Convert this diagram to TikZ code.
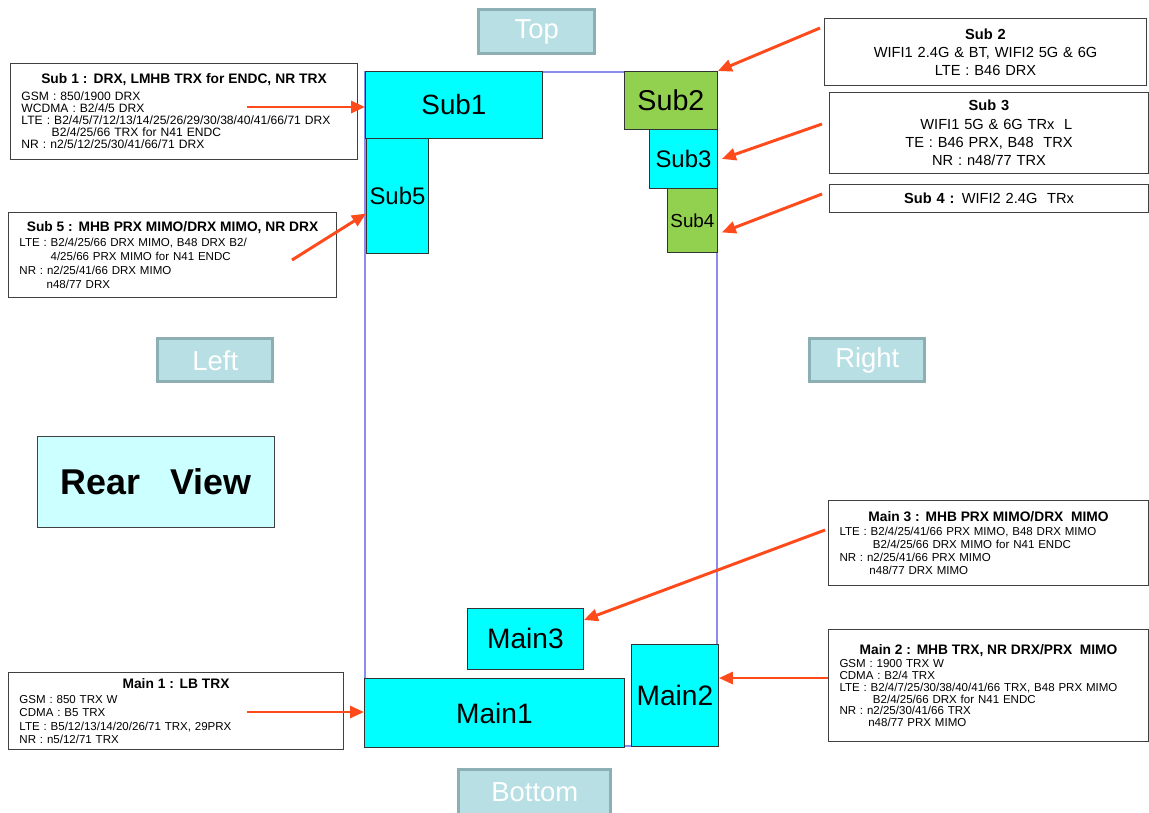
\documentclass[tikz,border=0pt]{standalone}
\usepackage{fontspec}
\setmainfont{Liberation Sans}
\usetikzlibrary{arrows.meta,positioning}
\definecolor{partcyan}{HTML}{00FFFF}
\definecolor{partgreen}{HTML}{92D050}
\definecolor{tagfill}{HTML}{B8DFE3}
\definecolor{tagedge}{HTML}{8CAFB3}
\definecolor{rearfill}{HTML}{CCFFFF}
\definecolor{arrowred}{HTML}{FF4A1C}
\definecolor{outlineblue}{HTML}{8C8CEB}
\definecolor{boxedge}{HTML}{404040}
\newcommand{\boxtitle}[1]{\makebox[\linewidth]{\fontsize{9.8}{12}\selectfont\bfseries #1}}

\begin{document}
\begin{tikzpicture}[x=0.025cm, y=-0.025cm,
    part/.style={draw=black!80, line width=0.6pt, anchor=north west, inner sep=1pt},
    infobox/.style={draw=boxedge, line width=0.7pt, fill=white, anchor=north west,
                    inner xsep=0.275cm, align=left, font=\fontsize{8.2}{8.4}\selectfont},
    tag/.style={draw=tagedge, line width=2pt, fill=tagfill, text=white, anchor=north west,
                inner sep=0pt, font=\fontsize{19.5}{22}\selectfont},
    arrow/.style={-{Triangle[length=0.35cm,width=0.3cm]}, line width=2.1pt, color=arrowred}
]
\useasboundingbox (0,0) rectangle (1149,812);

% --- phone outline ---
\draw[outlineblue, line width=0.8pt] (365,72) rectangle (717,746);

% --- antenna parts ---
\node[part, fill=partcyan, minimum width=4.425cm, minimum height=1.675cm,
      font=\fontsize{19.8}{22}\selectfont]                  (sub1) at (365,71) {Sub1};
\node[part, fill=partcyan, minimum width=1.55cm, minimum height=2.875cm,
      font=\fontsize{17}{20}\selectfont]                    (sub5) at (366,138) {Sub5};
\node[part, fill=partgreen, minimum width=2.325cm, minimum height=1.45cm,
      font=\fontsize{20.4}{23}\selectfont]                  (sub2) at (624,71) {Sub2};
\node[part, fill=partcyan, minimum width=1.7cm, minimum height=1.475cm,
      font=\fontsize{17}{20}\selectfont]                    (sub3) at (649,129) {Sub3};
\node[part, fill=partgreen, minimum width=1.25cm, minimum height=1.6cm,
      font=\fontsize{13.4}{16}\selectfont]                  (sub4) at (667,188) {Sub4};
\node[part, fill=partcyan, minimum width=2.9cm, minimum height=1.525cm,
      font=\fontsize{20}{23}\selectfont]                    (main3) at (467,608) {Main3};
\node[part, fill=partcyan, minimum width=6.5cm, minimum height=1.725cm,
      font=\fontsize{20}{23}\selectfont]                    (main1) at (364,678) {Main1};
\node[part, fill=partcyan, minimum width=2.175cm, minimum height=2.55cm,
      font=\fontsize{20}{23}\selectfont]                    (main2) at (631,644) {Main2};

% --- side tags ---
\node[tag, minimum width=2.9cm, minimum height=1.1cm]    (top)    at (477.4,8.4)   {Top};
\node[tag, minimum width=2.875cm, minimum height=1.075cm] (left)  at (156.4,337.4) {Left};
\node[tag, minimum width=2.875cm, minimum height=1.075cm] (right) at (808.4,337.4) {Right};
\node[tag, minimum width=3.8cm, minimum height=1.12cm]   (bottom) at (457.4,768.4) {Bottom};

\node[draw=boxedge, line width=0.7pt, fill=rearfill, anchor=north west,
      minimum width=5.925cm, minimum height=2.275cm,
      font=\fontsize{25.5}{30}\selectfont\bfseries]     (rear) at (37,436) {Rear~~~View};

% --- band notes ---
\node[infobox, text width=8.125cm, minimum height=2.4cm,
      font=\fontsize{8.6}{8.6}\selectfont]             (sub1info) at (10,63)
  {\boxtitle{Sub 1 : DRX, LMHB TRX for ENDC, NR TRX}\\[3.2pt]
   GSM : 850/1900 DRX\\
   WCDMA : B2/4/5 DRX\\
   LTE : B2/4/5/7/12/13/14/25/26/29/30/38/40/41/66/71 DRX\\
   \hspace*{2.5em}B2/4/25/66 TRX for N41 ENDC\\
   NR : n2/5/12/25/30/41/66/71 DRX};

\node[infobox, text width=7.65cm, minimum height=2.125cm,
      font=\fontsize{8.2}{10}\selectfont]              (sub5info) at (8,212)
  {\boxtitle{Sub 5 : MHB PRX MIMO/DRX MIMO, NR DRX}\\[0.5pt]
   LTE : B2/4/25/66 DRX MIMO, B48 DRX B2/\\
   \hspace*{2.7em}4/25/66 PRX MIMO for N41 ENDC\\
   NR : n2/25/41/66 DRX MIMO\\
   \hspace*{2.35em}n48/77 DRX};

\node[infobox, text width=7.825cm, minimum height=1.925cm,
      font=\fontsize{8.2}{9.4}\selectfont]             (main1info) at (8,672)
  {\boxtitle{Main 1 : LB TRX}\\[1.3pt]
   GSM : 850 TRX W\\
   CDMA : B5 TRX\\
   LTE : B5/12/13/14/20/26/71 TRX, 29PRX\\
   NR : n5/12/71 TRX};

\node[infobox, text width=7.5cm, minimum height=1.675cm, align=center,
      font=\fontsize{10.4}{12.8}\selectfont]           (sub2info) at (824,18)
  {\textbf{Sub 2}\\
   WIFI1 2.4G \& BT, WIFI2 5G \& 6G\\
   LTE : B46 DRX};

\node[infobox, text width=7.425cm, minimum height=2.025cm, align=center,
      font=\fontsize{10.4}{13}\selectfont]             (sub3info) at (829,92)
  {\textbf{Sub 3}\\
   \hspace*{1em}WIFI1 5G \& 6G TRx\ \ L\\
   TE : B46 PRX, B48\ \ TRX\\
   NR : n48/77 TRX};

\node[infobox, text width=7.425cm, minimum height=0.7cm, align=center,
      inner ysep=0pt, font=\fontsize{10.4}{12}\selectfont] (sub4info) at (829,184)
  {\textbf{Sub 4 :} WIFI2 2.4G\ \ TRx};

\node[infobox, text width=7.45cm, minimum height=2.125cm,
      font=\fontsize{8.2}{9.2}\selectfont]             (main3info) at (828,500)
  {\boxtitle{Main 3 : MHB PRX MIMO/DRX\ \ MIMO}\\[0.8pt]
   LTE : B2/4/25/41/66 PRX MIMO, B48 DRX MIMO\\
   \hspace*{2.9em}B2/4/25/66 DRX MIMO for N41 ENDC\\
   NR : n2/25/41/66 PRX MIMO\\
   \hspace*{2.6em}n48/77 DRX MIMO};

\node[infobox, text width=7.45cm, minimum height=2.8cm,
      font=\fontsize{8.2}{8.4}\selectfont]             (main2info) at (828,629)
  {\boxtitle{Main 2 : MHB TRX, NR DRX/PRX\ \ MIMO}\\[1.3pt]
   GSM : 1900 TRX W\\
   CDMA : B2/4 TRX\\
   LTE : B2/4/7/25/30/38/40/41/66 TRX, B48 PRX MIMO\\
   \hspace*{2.9em}B2/4/25/66 DRX for N41 ENDC\\
   NR : n2/25/30/41/66 TRX\\
   \hspace*{2.5em}n48/77 PRX MIMO};

% --- arrows ---
\coordinate (sub1tail)  at (247,107);
\coordinate (sub5tail)  at (292,260);
\coordinate (main1tail) at (247,712);
\coordinate (sub2tail)  at (820,28);
\coordinate (sub3tail)  at (822,124);
\coordinate (sub4tail)  at (822,194);
\coordinate (main3tail) at (825,530);
\coordinate (main2tail) at (828,678);

\draw[arrow] (sub1tail)  -- (sub1tail -| sub1.west);
\draw[arrow] (sub5tail)  -- ([yshift=-0.44cm]sub5.west);
\draw[arrow] (main1tail) -- (main1tail -| main1.west);
\draw[arrow] (sub2tail)  -- (sub2.north east);
\draw[arrow] (sub3tail)  -- ([xshift=0.1cm]sub3.east);
\draw[arrow] (sub4tail)  -- ([xshift=0.1cm,yshift=-0.3cm]sub4.east);
\draw[arrow] (main3tail) -- ([yshift=-0.3cm]main3.north east);
\draw[arrow] (main2tail) -- (main2tail -| main2.east);

\end{tikzpicture}
\end{document}
